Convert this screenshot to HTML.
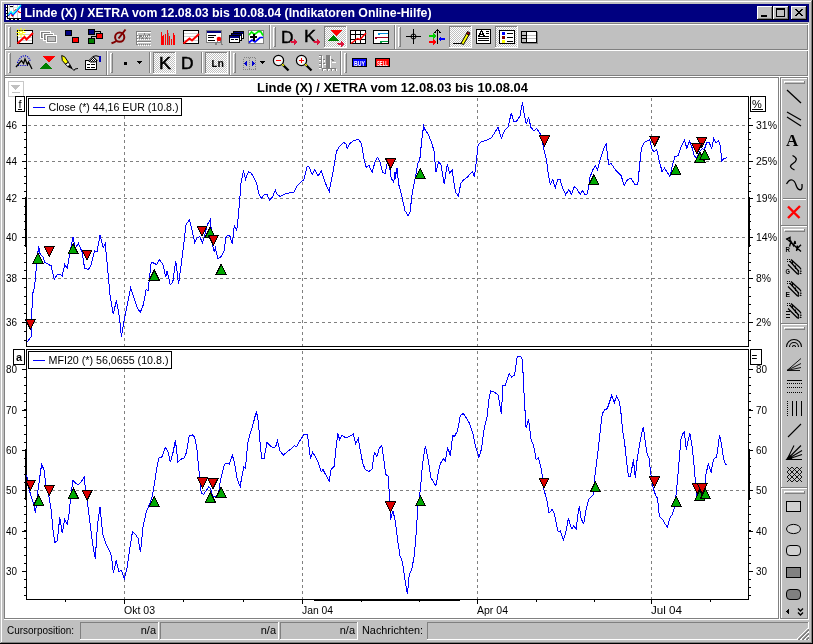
<!DOCTYPE html>
<html><head><meta charset="utf-8"><title>Linde (X) / XETRA</title>
<style>html,body{margin:0;padding:0;background:#c0c0c0;overflow:hidden}svg{display:block}text{white-space:pre}</style></head>
<body><svg width="813" height="644" viewBox="0 0 813 644" shape-rendering="crispEdges">
<defs><pattern id="chk" width="2" height="2" patternUnits="userSpaceOnUse"><rect width="2" height="2" fill="#fff"/><rect width="1" height="1" fill="#c0c0c0"/><rect x="1" y="1" width="1" height="1" fill="#c0c0c0"/></pattern><pattern id="chk2" width="2" height="2" patternUnits="userSpaceOnUse"><rect width="2" height="2" fill="#fff"/><rect width="1" height="1" fill="#000"/><rect x="1" y="1" width="1" height="1" fill="#000"/></pattern></defs>
<rect x="0" y="0" width="813" height="644" fill="#c0c0c0"/>
<rect x="1" y="1" width="811" height="1" fill="#fff"/>
<rect x="1" y="1" width="1" height="641" fill="#fff"/>
<rect x="0" y="643" width="813" height="1" fill="#000"/>
<rect x="812" y="0" width="1" height="644" fill="#000"/>
<rect x="1" y="642" width="811" height="1" fill="#808080"/>
<rect x="811" y="1" width="1" height="642" fill="#808080"/>
<rect x="4" y="4" width="805" height="18" fill="#000080"/>
<text x="24.5" y="17" font-size="12" font-family="Liberation Sans, Arial, sans-serif" fill="#fff" font-weight="bold" textLength="407" lengthAdjust="spacingAndGlyphs">Linde (X) / XETRA vom 12.08.03 bis 10.08.04 (Indikatoren Online-Hilfe)</text>
<g transform="translate(6,5)"><rect x="0" y="0" width="15" height="15" fill="#fff"/><rect x="0" y="0" width="1" height="15" fill="#000"/><rect x="1" y="0" width="1" height="14" fill="#000"/><rect x="1" y="13" width="14" height="1" fill="#000"/><rect x="0" y="14" width="15" height="1" fill="#000"/><rect x="0" y="0" width="1" height="2" fill="#fff"/><rect x="0" y="3" width="1" height="2" fill="#fff"/><rect x="0" y="6" width="1" height="2" fill="#fff"/><rect x="0" y="9" width="1" height="2" fill="#fff"/><rect x="0" y="12" width="1" height="2" fill="#fff"/><rect x="0" y="13" width="1" height="2" fill="#fff"/><rect x="1" y="14" width="2" height="1" fill="#fff"/><rect x="5" y="14" width="2" height="1" fill="#fff"/><rect x="9" y="14" width="2" height="1" fill="#fff"/><rect x="13" y="14" width="2" height="1" fill="#fff"/><path d="M3.5 0v13M7.5 0v13M11.5 0v13" stroke="#c8c8c8" stroke-width="1" fill="none"/><path d="M2 2.5h13M2 7.5h13" stroke="#e0e0e0" stroke-width="1" fill="none"/><rect x="4" y="1" width="3" height="1" fill="#000"/><g shape-rendering="auto"><path d="M2 8.5l1 0M5 9.5l1.5 1.5 1-1.5M8.5 6l1.5-1.5 2 0M12 6l1.5 1.5h1.5" stroke="#f00" stroke-width="1.2" fill="none"/><path d="M2 10.8l3-3.3 2 2.5 8-9" stroke="#00f" stroke-width="1.2" fill="none"/><path d="M2 9.8l3-3.3 2 2.5 8-9" stroke="#0ff" stroke-width="1.2" fill="none"/></g></g>
<rect x="757" y="6" width="16" height="14" fill="#c0c0c0"/>
<rect x="757" y="6" width="15" height="1" fill="#fff"/>
<rect x="757" y="6" width="1" height="13" fill="#fff"/>
<rect x="757" y="19" width="16" height="1" fill="#000"/>
<rect x="772" y="6" width="1" height="14" fill="#000"/>
<rect x="758" y="18" width="14" height="1" fill="#808080"/>
<rect x="771" y="7" width="1" height="12" fill="#808080"/>
<rect x="773" y="6" width="16" height="14" fill="#c0c0c0"/>
<rect x="773" y="6" width="15" height="1" fill="#fff"/>
<rect x="773" y="6" width="1" height="13" fill="#fff"/>
<rect x="773" y="19" width="16" height="1" fill="#000"/>
<rect x="788" y="6" width="1" height="14" fill="#000"/>
<rect x="774" y="18" width="14" height="1" fill="#808080"/>
<rect x="787" y="7" width="1" height="12" fill="#808080"/>
<rect x="791" y="6" width="16" height="14" fill="#c0c0c0"/>
<rect x="791" y="6" width="15" height="1" fill="#fff"/>
<rect x="791" y="6" width="1" height="13" fill="#fff"/>
<rect x="791" y="19" width="16" height="1" fill="#000"/>
<rect x="806" y="6" width="1" height="14" fill="#000"/>
<rect x="792" y="18" width="14" height="1" fill="#808080"/>
<rect x="805" y="7" width="1" height="12" fill="#808080"/>
<rect x="761" y="15" width="6" height="2" fill="#000"/>
<rect x="776" y="8" width="9" height="9" fill="#000"/>
<rect x="777" y="10" width="7" height="6" fill="#c0c0c0"/>
<path d="M795 9l7 7M796 9l7 7M802 9l-7 7M803 9l-7 7" stroke="#000" stroke-width="1" shape-rendering="crispEdges" fill="none"/>
<rect x="4" y="23" width="805" height="1" fill="#808080"/>
<rect x="4" y="24" width="805" height="1" fill="#fff"/>
<rect x="4" y="49" width="805" height="1" fill="#808080"/>
<rect x="4" y="50" width="805" height="1" fill="#fff"/>
<rect x="4" y="75" width="805" height="1" fill="#808080"/>
<rect x="4" y="76" width="805" height="1" fill="#fff"/>
<rect x="4" y="23" width="1" height="54" fill="#808080"/>
<rect x="5" y="25" width="1" height="24" fill="#fff"/>
<rect x="5" y="51" width="1" height="24" fill="#fff"/>
<rect x="807" y="25" width="1" height="24" fill="#808080"/>
<rect x="807" y="51" width="1" height="24" fill="#808080"/>
<rect x="808" y="23" width="1" height="54" fill="#fff"/>
<rect x="8" y="27" width="1" height="20" fill="#fff"/>
<rect x="9" y="27" width="1" height="20" fill="#c0c0c0"/>
<rect x="10" y="27" width="1" height="20" fill="#808080"/>
<rect x="8" y="27" width="2" height="1" fill="#fff"/>
<rect x="9" y="46" width="2" height="1" fill="#808080"/>
<rect x="269" y="25" width="1" height="24" fill="#808080"/>
<rect x="270" y="25" width="1" height="24" fill="#fff"/>
<rect x="273" y="27" width="1" height="20" fill="#fff"/>
<rect x="274" y="27" width="1" height="20" fill="#c0c0c0"/>
<rect x="275" y="27" width="1" height="20" fill="#808080"/>
<rect x="273" y="27" width="2" height="1" fill="#fff"/>
<rect x="274" y="46" width="2" height="1" fill="#808080"/>
<rect x="394" y="25" width="1" height="24" fill="#808080"/>
<rect x="395" y="25" width="1" height="24" fill="#fff"/>
<rect x="398" y="27" width="1" height="20" fill="#fff"/>
<rect x="399" y="27" width="1" height="20" fill="#c0c0c0"/>
<rect x="400" y="27" width="1" height="20" fill="#808080"/>
<rect x="398" y="27" width="2" height="1" fill="#fff"/>
<rect x="399" y="46" width="2" height="1" fill="#808080"/>
<rect x="324" y="26" width="23" height="22" fill="url(#chk)"/>
<rect x="324" y="26" width="23" height="1" fill="#808080"/>
<rect x="324" y="26" width="1" height="22" fill="#808080"/>
<rect x="324" y="47" width="23" height="1" fill="#fff"/>
<rect x="346" y="26" width="1" height="22" fill="#fff"/>
<rect x="449" y="26" width="23" height="22" fill="url(#chk)"/>
<rect x="449" y="26" width="23" height="1" fill="#808080"/>
<rect x="449" y="26" width="1" height="22" fill="#808080"/>
<rect x="449" y="47" width="23" height="1" fill="#fff"/>
<rect x="471" y="26" width="1" height="22" fill="#fff"/>
<rect x="495" y="26" width="23" height="22" fill="url(#chk)"/>
<rect x="495" y="26" width="23" height="1" fill="#808080"/>
<rect x="495" y="26" width="1" height="22" fill="#808080"/>
<rect x="495" y="47" width="23" height="1" fill="#fff"/>
<rect x="517" y="26" width="1" height="22" fill="#fff"/>
<rect x="8" y="53" width="1" height="20" fill="#fff"/>
<rect x="9" y="53" width="1" height="20" fill="#c0c0c0"/>
<rect x="10" y="53" width="1" height="20" fill="#808080"/>
<rect x="8" y="53" width="2" height="1" fill="#fff"/>
<rect x="9" y="72" width="2" height="1" fill="#808080"/>
<rect x="106" y="51" width="1" height="24" fill="#808080"/>
<rect x="107" y="51" width="1" height="24" fill="#fff"/>
<rect x="110" y="53" width="1" height="20" fill="#fff"/>
<rect x="111" y="53" width="1" height="20" fill="#c0c0c0"/>
<rect x="112" y="53" width="1" height="20" fill="#808080"/>
<rect x="110" y="53" width="2" height="1" fill="#fff"/>
<rect x="111" y="72" width="2" height="1" fill="#808080"/>
<rect x="149" y="52" width="1" height="21" fill="#808080"/>
<rect x="150" y="52" width="1" height="21" fill="#fff"/>
<rect x="201" y="52" width="1" height="21" fill="#808080"/>
<rect x="202" y="52" width="1" height="21" fill="#fff"/>
<rect x="229" y="51" width="1" height="24" fill="#808080"/>
<rect x="230" y="51" width="1" height="24" fill="#fff"/>
<rect x="233" y="53" width="1" height="20" fill="#fff"/>
<rect x="234" y="53" width="1" height="20" fill="#c0c0c0"/>
<rect x="235" y="53" width="1" height="20" fill="#808080"/>
<rect x="233" y="53" width="2" height="1" fill="#fff"/>
<rect x="234" y="72" width="2" height="1" fill="#808080"/>
<rect x="340" y="51" width="1" height="24" fill="#808080"/>
<rect x="341" y="51" width="1" height="24" fill="#fff"/>
<rect x="344" y="53" width="1" height="20" fill="#fff"/>
<rect x="345" y="53" width="1" height="20" fill="#c0c0c0"/>
<rect x="346" y="53" width="1" height="20" fill="#808080"/>
<rect x="344" y="53" width="2" height="1" fill="#fff"/>
<rect x="345" y="72" width="2" height="1" fill="#808080"/>
<rect x="153" y="52" width="23" height="22" fill="url(#chk)"/>
<rect x="153" y="52" width="23" height="1" fill="#808080"/>
<rect x="153" y="52" width="1" height="22" fill="#808080"/>
<rect x="153" y="73" width="23" height="1" fill="#fff"/>
<rect x="175" y="52" width="1" height="22" fill="#fff"/>
<rect x="205" y="52" width="23" height="22" fill="url(#chk)"/>
<rect x="205" y="52" width="23" height="1" fill="#808080"/>
<rect x="205" y="52" width="1" height="22" fill="#808080"/>
<rect x="205" y="73" width="23" height="1" fill="#fff"/>
<rect x="227" y="52" width="1" height="22" fill="#fff"/>
<rect x="17" y="30" width="16" height="14" fill="#000"/><rect x="18" y="31" width="14" height="12" fill="#fff"/><path d="M18 34.5h14M18 37.5h14M18 40.5h14" stroke="#d0d0d0" stroke-width="1" fill="none"/><path d="M17.5 43.5l7-6.5 2 2.5 6.5-6.5" stroke="#f00" stroke-width="2" fill="none" shape-rendering="auto"/><g shape-rendering="auto"><path d="M17 29l8 7M25 29l-8 7M21 28v9M16.5 32.5h9" stroke="#ff0" stroke-width="1" fill="none"/></g><rect x="20" y="32" width="2" height="1" fill="#fff"/><rect x="40" y="31" width="11" height="8" fill="#fff"/><rect x="41" y="32" width="9" height="6" fill="#c0c0c0"/><rect x="41" y="32" width="9" height="6" fill="#808080"/><rect x="42" y="33" width="7" height="4" fill="#c0c0c0"/><rect x="43" y="33" width="11" height="8" fill="#fff"/><rect x="44" y="34" width="9" height="6" fill="#c0c0c0"/><rect x="44" y="34" width="9" height="6" fill="#808080"/><rect x="45" y="35" width="7" height="4" fill="#c0c0c0"/><rect x="46" y="35" width="11" height="8" fill="#fff"/><rect x="47" y="36" width="9" height="6" fill="#c0c0c0"/><rect x="47" y="36" width="9" height="6" fill="#808080"/><rect x="48" y="37" width="7" height="4" fill="#c0c0c0"/><rect x="65" y="30" width="7" height="6" fill="#000"/><rect x="66" y="31" width="5" height="4" fill="#000080"/><rect x="72" y="37" width="7" height="6" fill="#000"/><rect x="73" y="38" width="5" height="4" fill="#f00"/><path d="M95 31.5h5.5v2M96 36.5h-4.5v2" stroke="#000" stroke-width="1" fill="none"/><rect x="88" y="29" width="7" height="6" fill="#000"/><rect x="89" y="30" width="5" height="4" fill="#000080"/><rect x="96" y="33" width="7" height="6" fill="#000"/><rect x="97" y="34" width="5" height="4" fill="#f00"/><rect x="88" y="38" width="7" height="6" fill="#000"/><rect x="89" y="39" width="5" height="4" fill="#008000"/><g shape-rendering="auto"><circle cx="119.7" cy="37.2" r="4.6" fill="none" stroke="#800000" stroke-width="2"/><path d="M125.5 29.5L118.5 38.5M116.5 41Q114 42.5 111.5 43.3" stroke="#800000" stroke-width="2" fill="none"/></g><rect x="136" y="31" width="1" height="14" fill="#808080"/><rect x="137" y="32" width="1" height="13" fill="#fff"/><path d="M137 31.5h14M137 41.5h14" stroke="#808080" stroke-width="1" fill="none"/><path d="M138 32.5h13M138 42.5h13" stroke="#fff" stroke-width="1" fill="none"/><path d="M137 35.5h14M137 38.5h14M137 44.5h14" stroke="#808080" stroke-width="1" fill="none" stroke-dasharray="1 1"/><path d="M138 36.5h14M138 39.5h14M138 45.5h14" stroke="#fff" stroke-width="1" fill="none" stroke-dasharray="1 1"/><path d="M139 38l2-3 1.5 3 2-4 2 4 1.5-3 2-1" stroke="#808080" stroke-width="1" fill="none"/><rect x="161" y="32" width="1" height="13" fill="#f00"/><rect x="163" y="35" width="1" height="10" fill="#f00"/><rect x="165" y="34" width="1" height="11" fill="#f00"/><rect x="167" y="30" width="1" height="15" fill="#f00"/><rect x="169" y="36" width="1" height="9" fill="#f00"/><rect x="171" y="39" width="1" height="6" fill="#f00"/><rect x="173" y="33" width="1" height="12" fill="#f00"/><rect x="162" y="36" width="1" height="9" fill="#f00"/><rect x="168" y="33" width="1" height="12" fill="#808080"/><rect x="174" y="35" width="1" height="10" fill="#f00"/><rect x="183" y="30" width="16" height="14" fill="#000"/><rect x="184" y="31" width="14" height="12" fill="#fff"/><path d="M184 33.5h14M184 36.5h14M184 40.5h14" stroke="#d0d0d0" stroke-width="1" fill="none"/><path d="M183.5 43.5l6-5 2.5 2 7-6.5" stroke="#f00" stroke-width="2" fill="none" shape-rendering="auto"/><rect x="206" y="30" width="16" height="13" fill="#808080"/><rect x="207" y="31" width="14" height="11" fill="#fff"/><rect x="207" y="31" width="14" height="2" fill="#000080"/><path d="M208 35.5h8M208 37.5h6M208 40.5h7" stroke="#000" stroke-width="1" fill="none"/><path d="M218.5 40l-3 5M219.5 40l3 5" stroke="#808080" stroke-width="1.5" fill="none"/><circle cx="219" cy="39" r="2.3" fill="#f00" shape-rendering="auto"/><rect x="233" y="31" width="11" height="8" fill="#000"/><rect x="234" y="32" width="9" height="6" fill="#fff"/><rect x="234" y="32" width="9" height="2" fill="#000080"/><rect x="231" y="33" width="11" height="8" fill="#000"/><rect x="232" y="34" width="9" height="6" fill="#fff"/><rect x="232" y="34" width="9" height="2" fill="#000080"/><rect x="229" y="35" width="11" height="8" fill="#000"/><rect x="230" y="36" width="9" height="6" fill="#fff"/><rect x="230" y="36" width="9" height="2" fill="#000080"/><path d="M231 39.5h3M235 39.5h3" stroke="#000" stroke-width="1" fill="none"/><rect x="248" y="30" width="16" height="14" fill="#808080"/><rect x="249" y="31" width="14" height="12" fill="#fff"/><path d="M249 35l2.5-3 3 2.5 4.5-3.5 2 1 2 3.5" stroke="#0e0" stroke-width="1.7" fill="none" shape-rendering="auto"/><path d="M249 42.5l3-2.5 3 2 5-4.5h3" stroke="#00f" stroke-width="1.7" fill="none" shape-rendering="auto"/><rect x="253" y="34" width="2" height="7" fill="#000"/><rect x="250" y="36" width="7" height="2" fill="#000"/><text x="281" y="43" font-size="16" font-family="Liberation Sans, Arial, sans-serif" font-weight="normal" fill="#000" text-anchor="start" textLength="12.5" lengthAdjust="spacingAndGlyphs" stroke="#000" stroke-width="0.4">D</text><rect x="290" y="41" width="6" height="1" fill="#dc143c"/><rect x="291" y="42" width="5" height="1" fill="#dc143c"/><path d="M294 39.5l2.5 2.5-2.5 2.5z" stroke="#dc143c" stroke-width="1" fill="#dc143c"/><text x="304" y="42" font-size="16" font-family="Liberation Sans, Arial, sans-serif" font-weight="normal" fill="#000" text-anchor="start" textLength="12" lengthAdjust="spacingAndGlyphs" stroke="#000" stroke-width="0.4">K</text><rect x="313" y="41" width="6" height="1" fill="#dc143c"/><rect x="314" y="42" width="5" height="1" fill="#dc143c"/><path d="M317 39.5l2.5 2.5-2.5 2.5z" stroke="#dc143c" stroke-width="1" fill="#dc143c"/><path d="M330.5 30h12l-6 6z" stroke="#f00" stroke-width="0" fill="#f00"/><path d="M328 41h11l-5.5 -6z" stroke="#008000" stroke-width="0" fill="#008000"/><rect x="337" y="43" width="6" height="1" fill="#dc143c"/><rect x="338" y="44" width="5" height="1" fill="#dc143c"/><path d="M341 41.5l2.5 2.5-2.5 2.5z" stroke="#dc143c" stroke-width="1" fill="#dc143c"/><rect x="350" y="30" width="16" height="14" fill="#000"/><rect x="351" y="31" width="14" height="12" fill="#fff"/><path d="M355.5 30v14M360.5 30v14M350 34.5h16M350 39.5h16" stroke="#000" stroke-width="1" fill="none"/><path d="M351 43.5l6.5-5 2.5 1 6-6.5" stroke="#f00" stroke-width="1.5" fill="none" shape-rendering="auto"/><rect x="373" y="30" width="16" height="14" fill="#000"/><rect x="374" y="31" width="14" height="12" fill="#fff"/><rect x="378" y="33" width="10" height="1" fill="#0090e0"/><rect x="378" y="34" width="2" height="1" fill="#0090e0"/><rect x="375" y="37" width="13" height="1" fill="#a00020"/><rect x="375" y="38" width="2" height="1" fill="#a00020"/><rect x="380" y="41" width="8" height="1" fill="#00a040"/><rect x="380" y="42" width="2" height="1" fill="#00a040"/><rect x="406" y="36" width="15" height="1" fill="#000"/><rect x="413" y="29" width="1" height="15" fill="#000"/><circle cx="413.5" cy="36.5" r="2.5" fill="none" stroke="#000" shape-rendering="auto"/><rect x="437" y="30" width="1" height="14" fill="#000"/><path d="M434.5 33l3-3.5 3 3.5" stroke="#000" stroke-width="1" fill="none"/><rect x="429" y="35" width="6" height="2" fill="#0c0"/><path d="M433 33l3 3-3 3z" stroke="#0c0" stroke-width="0" fill="#0c0"/><rect x="429" y="41" width="6" height="2" fill="#f00"/><path d="M433 39l3 3-3 3z" stroke="#f00" stroke-width="0" fill="#f00"/><rect x="440" y="38" width="5" height="2" fill="#00f"/><path d="M441 36l-3 3 3 3z" stroke="#00f" stroke-width="0" fill="#00f"/><rect x="453" y="43" width="8" height="1" fill="#000"/><g shape-rendering="auto"><path d="M461 43.5l5.5-10 2.5 1.5-5.5 9.5z" stroke="#000" stroke-width="1" fill="#ff0"/><path d="M466.5 33.5l1-2 2.5 1.5-1 2z" stroke="#000" stroke-width="1" fill="#c00"/></g><rect x="476" y="29" width="15" height="15" fill="#000"/><rect x="477" y="30" width="13" height="13" fill="#fff"/><path d="M478.5 36l3-5 3 5M479.5 34.5h4" stroke="#000" stroke-width="1.3" fill="none"/><path d="M486 31.5h3M486 33.5h3M478 36.5h11M478 38.5h11M478 40.5h11" stroke="#000" stroke-width="1" fill="none"/><rect x="499" y="30" width="16" height="14" fill="#000"/><rect x="500" y="31" width="14" height="12" fill="#fff"/><rect x="502" y="32" width="3" height="3" fill="#00f"/><rect x="502" y="36" width="3" height="3" fill="#800000"/><rect x="502" y="40" width="3" height="3" fill="#ff0"/><rect x="507" y="33" width="6" height="1" fill="#000"/><rect x="507" y="37" width="6" height="1" fill="#000"/><rect x="507" y="41" width="6" height="1" fill="#000"/><rect x="521" y="31" width="16" height="12" fill="#000"/><rect x="522" y="32" width="14" height="10" fill="#fff"/><rect x="522" y="32" width="4" height="10" fill="#c0c0c0"/><path d="M526.5 31v12" stroke="#000" stroke-width="1" fill="none"/><path d="M522 35.5h4M522 38.5h4" stroke="#000" stroke-width="1" fill="none"/><path d="M527 35.5h9M527 38.5h9" stroke="#c0c0c0" stroke-width="1" fill="none"/><rect x="522" y="43" width="16" height="1" fill="#808080"/><rect x="537" y="32" width="1" height="12" fill="#808080"/><g shape-rendering="auto"><path d="M17.5 63Q20 56 24.5 55.7Q29 56 30.5 62" stroke="#00c" stroke-width="1.3" fill="none" stroke-dasharray="1.1 1.1"/><path d="M18 65.5h11" stroke="#00c" stroke-width="1.1" fill="none" stroke-dasharray="1.1 1.1"/><path d="M16 67l5.5-6.5 2 3 1.5-4.5 2.5 5.5 1-2.5 3.5 7" stroke="#000" stroke-width="1.3" fill="none"/></g><path d="M42 56h13l-6.5 6.5z" stroke="#f00" stroke-width="0" fill="#f00"/><path d="M39 69h13l-6.5-6.5z" stroke="#008000" stroke-width="0" fill="#008000"/><g shape-rendering="auto"><path d="M61.7 55.5l3 1.3 3.7 5.5-3 1.8-3.1-3.6z" stroke="#000" stroke-width="1" fill="#ff0"/><path d="M65.4 64.1l3-1.8 1.9 3.1-2.5 1.2z" stroke="#000" stroke-width="1" fill="#fff"/><path d="M67.8 66.6l2.5-1.2 1.8 3.1z" stroke="#000" stroke-width="1" fill="#000"/><path d="M72 68.5l2 2 1-1.5 3-.5" stroke="#000" stroke-width="1" fill="none"/></g><rect x="85" y="60" width="12" height="10" fill="#000"/><rect x="86" y="61" width="10" height="8" fill="#fff"/><rect x="87" y="64" width="3" height="1" fill="#000"/><rect x="91" y="64" width="4" height="1" fill="#000"/><rect x="87" y="67" width="3" height="1" fill="#000"/><rect x="91" y="67" width="4" height="1" fill="#000"/><g shape-rendering="auto"><path d="M88.5 61l4.5-4.5 4 4-1.5 1.5h-5z" stroke="#000" stroke-width="1" fill="url(#chk2)"/><path d="M93 56.5q3-1.5 6 0" stroke="#000" stroke-width="1" fill="none"/></g><rect x="99" y="56" width="2" height="6" fill="#0000c0"/><rect x="124" y="62" width="3" height="3" fill="#000"/><rect x="137" y="61" width="5" height="1" fill="#000"/><rect x="138" y="62" width="3" height="1" fill="#000"/><rect x="139" y="63" width="1" height="1" fill="#000"/><text x="159" y="69" font-size="16" font-family="Liberation Sans, Arial, sans-serif" font-weight="normal" fill="#000" text-anchor="start" textLength="12" lengthAdjust="spacingAndGlyphs" stroke="#000" stroke-width="0.5">K</text><text x="181" y="69" font-size="16" font-family="Liberation Sans, Arial, sans-serif" font-weight="normal" fill="#000" text-anchor="start" textLength="12.5" lengthAdjust="spacingAndGlyphs" stroke="#000" stroke-width="0.5">D</text><text x="211" y="67" font-size="10" font-family="Liberation Mono, monospace" font-weight="bold" fill="#000" text-anchor="start" textLength="13" lengthAdjust="spacingAndGlyphs">Ln</text><rect x="243.5" y="57.5" width="12" height="12" fill="none" stroke="#808080" stroke-dasharray="1 1"/><path d="M249.5 58v12" stroke="#808080" stroke-width="1" fill="none" stroke-dasharray="1 1"/><path d="M247 61l-3 2.5 3 2.5z" stroke="#00c" stroke-width="0" fill="#00c"/><path d="M252 61l3 2.5-3 2.5z" stroke="#00c" stroke-width="0" fill="#00c"/><rect x="260" y="61" width="5" height="1" fill="#000"/><rect x="261" y="62" width="3" height="1" fill="#000"/><rect x="262" y="63" width="1" height="1" fill="#000"/><g shape-rendering="auto"><circle cx="278.5" cy="60.5" r="5.1" fill="#f4f4f4" stroke="#000" stroke-width="1.2"/><path d="M282.5 64.5l6 6" stroke="#000" stroke-width="2.3" fill="none"/><path d="M282.2 64.2l1.6 1.6" stroke="#ff0" stroke-width="1.6" fill="none"/></g><rect x="276" y="60" width="5" height="1" fill="#f00"/><g shape-rendering="auto"><circle cx="301.5" cy="60.5" r="5.1" fill="#f4f4f4" stroke="#000" stroke-width="1.2"/><path d="M305.5 64.5l6 6" stroke="#000" stroke-width="2.3" fill="none"/><path d="M305.2 64.2l1.6 1.6" stroke="#ff0" stroke-width="1.6" fill="none"/></g><rect x="299" y="60" width="5" height="1" fill="#f00"/><rect x="301" y="58" width="1" height="5" fill="#f00"/><rect x="321" y="55" width="1" height="13" fill="#808080"/><rect x="322" y="56" width="1" height="13" fill="#fff"/><rect x="319" y="55" width="2" height="1" fill="#808080"/><rect x="319" y="56" width="2" height="1" fill="#fff"/><rect x="319" y="59" width="2" height="1" fill="#808080"/><rect x="319" y="60" width="2" height="1" fill="#fff"/><rect x="319" y="63" width="2" height="1" fill="#808080"/><rect x="319" y="64" width="2" height="1" fill="#fff"/><rect x="319" y="67" width="2" height="1" fill="#808080"/><rect x="319" y="68" width="2" height="1" fill="#fff"/><rect x="326" y="55" width="4" height="14" fill="#808080"/><rect x="330" y="56" width="1" height="12" fill="#fff"/><rect x="323" y="59" width="2" height="1" fill="#808080"/><rect x="324" y="60" width="1" height="2" fill="#fff"/><rect x="323" y="63" width="2" height="1" fill="#808080"/><rect x="324" y="64" width="2" height="1" fill="#fff"/><rect x="331" y="59" width="2" height="1" fill="#808080"/><rect x="332" y="60" width="2" height="1" fill="#808080"/><rect x="332" y="62" width="4" height="1" fill="#fff"/><rect x="322" y="68" width="14" height="1" fill="#808080"/><rect x="322" y="69" width="1" height="2" fill="#808080"/><rect x="323" y="69" width="1" height="2" fill="#fff"/><rect x="327" y="69" width="1" height="2" fill="#808080"/><rect x="328" y="69" width="1" height="2" fill="#fff"/><rect x="331" y="69" width="1" height="2" fill="#808080"/><rect x="332" y="69" width="1" height="2" fill="#fff"/><rect x="335" y="69" width="1" height="2" fill="#808080"/><rect x="336" y="69" width="1" height="2" fill="#fff"/><rect x="323" y="69" width="3" height="1" fill="#fff"/><rect x="328" y="69" width="2" height="1" fill="#fff"/><rect x="332" y="69" width="2" height="1" fill="#fff"/><rect x="352" y="58" width="15" height="9" fill="#000"/><rect x="353" y="59" width="13" height="7" fill="#00f"/><text x="359.5" y="65.5" font-size="6.5" font-family="Liberation Sans, Arial, sans-serif" font-weight="bold" fill="#fff" text-anchor="middle" textLength="11" lengthAdjust="spacingAndGlyphs">BUY</text><rect x="375" y="58" width="15" height="9" fill="#000"/><rect x="376" y="59" width="13" height="7" fill="#f00"/><text x="382.5" y="65.5" font-size="6.5" font-family="Liberation Sans, Arial, sans-serif" font-weight="bold" fill="#fff" text-anchor="middle" textLength="11" lengthAdjust="spacingAndGlyphs">SELL</text>
<rect x="5" y="78" width="773" height="540" fill="#fff"/>
<rect x="4" y="77" width="775" height="1" fill="#808080"/>
<rect x="4" y="77" width="1" height="542" fill="#808080"/>
<rect x="778" y="77" width="1" height="542" fill="#808080"/>
<rect x="4" y="618" width="775" height="1" fill="#808080"/>
<rect x="779" y="77" width="1" height="543" fill="#fff"/>
<rect x="4" y="619" width="805" height="1" fill="#fff"/>
<rect x="780" y="77" width="1" height="542" fill="#808080"/>
<rect x="780" y="77" width="28" height="1" fill="#808080"/>
<rect x="807" y="77" width="1" height="542" fill="#808080"/>
<rect x="808" y="77" width="1" height="543" fill="#fff"/>
<rect x="781" y="78" width="26" height="1" fill="#fff"/>
<rect x="781" y="78" width="1" height="147" fill="#fff"/>
<rect x="781" y="225" width="27" height="1" fill="#808080"/>
<rect x="784" y="81" width="20" height="1" fill="#fff"/>
<rect x="784" y="82" width="20" height="1" fill="#c0c0c0"/>
<rect x="785" y="83" width="20" height="1" fill="#808080"/>
<rect x="784" y="81" width="1" height="2" fill="#fff"/>
<rect x="804" y="81" width="1" height="3" fill="#808080"/>
<rect x="781" y="226" width="26" height="1" fill="#fff"/>
<rect x="781" y="226" width="1" height="97" fill="#fff"/>
<rect x="781" y="323" width="27" height="1" fill="#808080"/>
<rect x="784" y="229" width="20" height="1" fill="#fff"/>
<rect x="784" y="230" width="20" height="1" fill="#c0c0c0"/>
<rect x="785" y="231" width="20" height="1" fill="#808080"/>
<rect x="784" y="229" width="1" height="2" fill="#fff"/>
<rect x="804" y="229" width="1" height="3" fill="#808080"/>
<rect x="781" y="324" width="26" height="1" fill="#fff"/>
<rect x="781" y="324" width="1" height="163" fill="#fff"/>
<rect x="781" y="487" width="27" height="1" fill="#808080"/>
<rect x="784" y="327" width="20" height="1" fill="#fff"/>
<rect x="784" y="328" width="20" height="1" fill="#c0c0c0"/>
<rect x="785" y="329" width="20" height="1" fill="#808080"/>
<rect x="784" y="327" width="1" height="2" fill="#fff"/>
<rect x="804" y="327" width="1" height="3" fill="#808080"/>
<rect x="781" y="488" width="26" height="1" fill="#fff"/>
<rect x="781" y="488" width="1" height="130" fill="#fff"/>
<rect x="781" y="618" width="27" height="1" fill="#808080"/>
<rect x="784" y="491" width="20" height="1" fill="#fff"/>
<rect x="784" y="492" width="20" height="1" fill="#c0c0c0"/>
<rect x="785" y="493" width="20" height="1" fill="#808080"/>
<rect x="784" y="491" width="1" height="2" fill="#fff"/>
<rect x="804" y="491" width="1" height="3" fill="#808080"/>
<rect x="783" y="198" width="23" height="1" fill="#808080"/>
<rect x="783" y="199" width="23" height="1" fill="#fff"/>
<g shape-rendering="auto" fill="none" stroke="#000" stroke-width="1.3"><path d="M787 90l14 13"/><path d="M787 112l14 8M787 117l14 9"/><path d="M792.5 155.5C798 158 797 161 793 163.5S790 168 794.5 170"/><path d="M786.5 184c4-7 8-4 9.5 1s7 8 6-1"/></g><text x="786" y="146" font-size="17" font-family="Liberation Serif, serif" font-weight="bold" fill="#000" text-anchor="start">A</text><g shape-rendering="auto"><path d="M788 206.5l11.5 11.5M800 206l-12 12" stroke="#f00" stroke-width="2.4" fill="none"/></g><g shape-rendering="auto" fill="none" stroke="#000" stroke-width="1.4"><path d="M786.5 238.5L801 251.5M786 239.3l4-2 0 3.5M789.5 246.5l1.5-5 2.5 4 1.5-4.5 0.5 3M796.5 251l1-5.5M797.5 248.2l3.5-3.5"/></g><text x="785.5" y="251.5" font-size="7.5" font-family="Liberation Sans, Arial, sans-serif" font-weight="bold" fill="#000" text-anchor="start" textLength="4.5" lengthAdjust="spacingAndGlyphs">R</text><g shape-rendering="auto" fill="none" stroke="#000" stroke-width="1.3"><path d="M791 259.5L800.3 268M788 264.5L797.8 274.3M789.8 261L799 271.5"/><path d="M800.5 268L801 273L798 274.5" stroke-dasharray="1.5 1"/><path d="M792.5 261v3M795.5 265.5v3.5M798.3 270.5v3.5" stroke-width="1.1"/></g><rect x="787" y="259" width="1" height="1" fill="#000"/><rect x="789" y="259" width="1" height="1" fill="#000"/><rect x="787" y="261" width="1" height="1" fill="#000"/><rect x="789" y="261" width="1" height="1" fill="#000"/><text x="785.5" y="274" font-size="7.5" font-family="Liberation Sans, Arial, sans-serif" font-weight="bold" fill="#000" text-anchor="start" textLength="4.5" lengthAdjust="spacingAndGlyphs">G</text><g shape-rendering="auto" fill="none" stroke="#000" stroke-width="1.3"><path d="M791 281.5L800.3 290M788 286.5L797.8 296.3M789.8 283L799 293.5"/><path d="M800.5 290L801 295L798 296.5" stroke-dasharray="1.5 1"/><path d="M792.5 283v3M795.5 287.5v3.5M798.3 292.5v3.5" stroke-width="1.1"/></g><rect x="787" y="281" width="1" height="1" fill="#000"/><rect x="789" y="281" width="1" height="1" fill="#000"/><rect x="787" y="283" width="1" height="1" fill="#000"/><rect x="789" y="283" width="1" height="1" fill="#000"/><text x="785.5" y="296.5" font-size="7.5" font-family="Liberation Sans, Arial, sans-serif" font-weight="bold" fill="#000" text-anchor="start" textLength="4.5" lengthAdjust="spacingAndGlyphs">E</text><g shape-rendering="auto" fill="none" stroke="#000" stroke-width="1.3"><path d="M791 303.5L800.3 312M788 308.5L797.8 318.3M789.8 305L799 315.5"/><path d="M800.5 312L801 317L798 318.5" stroke-dasharray="1.5 1"/><path d="M792.5 305v3M795.5 309.5v3.5M798.3 314.5v3.5" stroke-width="1.1"/></g><rect x="787" y="303" width="1" height="1" fill="#000"/><rect x="789" y="303" width="1" height="1" fill="#000"/><rect x="787" y="305" width="1" height="1" fill="#000"/><rect x="789" y="305" width="1" height="1" fill="#000"/><rect x="786" y="311" width="4" height="1" fill="#000"/><rect x="786" y="314" width="4" height="1" fill="#000"/><rect x="786" y="317" width="4" height="1" fill="#000"/><g shape-rendering="auto" fill="none" stroke="#000" stroke-width="1.1"><path d="M786.5 347a7.5 7.5 0 0 1 15 0M789.5 347a4.5 4.5 0 0 1 9 0M792.5 347a1.5 1.5 0 0 1 3 0"/><path d="M787 370.5l14-12M787 370.5l14-7M787 370.5l14-3M787 370.5l13 0" stroke-width="0.9"/><path d="M788 437l13-13"/><path d="M787 459.5l7-14M787 459.5l14-14M787 459.5l15-9M787 459.5l15-5M787 459.5h15"/><path d="M786.5 459.5l3.5-4 2 4z" fill="#000"/><path d="M787 467l15 15M787 472l10 10M787 477l5 5M792 467l10 10M797 467l5 5M802 467l-15 15M797 467l-10 10M792 467l-5 5M802 472l-10 10M802 477l-5 5" stroke-width="0.9"/></g><rect x="787" y="380" width="15" height="1" fill="#000"/><path d="M787 383.5h15" stroke="#000" stroke-width="1" fill="none" stroke-dasharray="1 1"/><path d="M787 387.5h15" stroke="#000" stroke-width="1" fill="none" stroke-dasharray="1 1"/><path d="M787 392.5h15" stroke="#000" stroke-width="1" fill="none" stroke-dasharray="1 1"/><path d="M787.5 401v15" stroke="#000" stroke-width="1" fill="none" stroke-dasharray="1 1"/><rect x="792" y="401" width="1" height="15" fill="#000"/><rect x="796" y="401" width="1" height="15" fill="#000"/><rect x="801" y="401" width="1" height="15" fill="#000"/><rect x="786" y="501" width="15" height="11" fill="#000"/><rect x="787" y="502" width="13" height="9" fill="#d0d0d0"/><g shape-rendering="auto"><ellipse cx="793.5" cy="529" rx="7" ry="4.6" fill="#d0d0d0" stroke="#000"/><rect x="786.5" y="545.5" width="14" height="10" rx="3.5" fill="#d0d0d0" stroke="#000"/><rect x="786.5" y="589.5" width="14" height="10" rx="3.5" fill="#808080" stroke="#000"/></g><rect x="786" y="567" width="15" height="11" fill="#000"/><rect x="787" y="568" width="13" height="9" fill="#808080"/><path d="M789 609v5l-3-2.5z" stroke="#000" stroke-width="0" fill="#000"/><g shape-rendering="auto"><path d="M798 608.5l2.5 2.5 2.5-2.5M798 612.5l2.5 2.5 2.5-2.5" stroke="#000" stroke-width="1.4" fill="none"/></g>
<rect x="80" y="622" width="79" height="1" fill="#808080"/>
<rect x="80" y="622" width="1" height="18" fill="#808080"/>
<rect x="80" y="639" width="79" height="1" fill="#fff"/>
<rect x="158" y="622" width="1" height="18" fill="#fff"/>
<rect x="160" y="622" width="119" height="1" fill="#808080"/>
<rect x="160" y="622" width="1" height="18" fill="#808080"/>
<rect x="160" y="639" width="119" height="1" fill="#fff"/>
<rect x="278" y="622" width="1" height="18" fill="#fff"/>
<rect x="280" y="622" width="78" height="1" fill="#808080"/>
<rect x="280" y="622" width="1" height="18" fill="#808080"/>
<rect x="280" y="639" width="78" height="1" fill="#fff"/>
<rect x="357" y="622" width="1" height="18" fill="#fff"/>
<rect x="427" y="622" width="382" height="1" fill="#808080"/>
<rect x="427" y="622" width="1" height="18" fill="#808080"/>
<rect x="427" y="639" width="382" height="1" fill="#fff"/>
<rect x="808" y="622" width="1" height="18" fill="#fff"/>
<text x="7" y="634" font-size="11" font-family="Liberation Sans, Arial, sans-serif" fill="#000" textLength="67" lengthAdjust="spacingAndGlyphs">Cursorposition:</text>
<text x="362" y="634" font-size="11" font-family="Liberation Sans, Arial, sans-serif" fill="#000" textLength="61" lengthAdjust="spacingAndGlyphs">Nachrichten:</text>
<text x="156" y="634" font-size="11" font-family="Liberation Sans, Arial, sans-serif" fill="#000" text-anchor="end">n/a</text>
<text x="276" y="634" font-size="11" font-family="Liberation Sans, Arial, sans-serif" fill="#000" text-anchor="end">n/a</text>
<text x="355" y="634" font-size="11" font-family="Liberation Sans, Arial, sans-serif" fill="#000" text-anchor="end">n/a</text>
<g shape-rendering="crispEdges"><path d="M805 639L808 636" stroke="#fff"/><path d="M806 640L809 637" stroke="#808080"/><path d="M807 640L809 638" stroke="#808080"/><path d="M801 639L808 632" stroke="#fff"/><path d="M802 640L809 633" stroke="#808080"/><path d="M803 640L809 634" stroke="#808080"/><path d="M797 639L808 628" stroke="#fff"/><path d="M798 640L809 629" stroke="#808080"/><path d="M799 640L809 630" stroke="#808080"/></g>
<text x="392.5" y="92" font-size="13" font-family="Liberation Sans, Arial, sans-serif" fill="#000" font-weight="bold" text-anchor="middle" textLength="271" lengthAdjust="spacingAndGlyphs">Linde (X) / XETRA vom 12.08.03 bis 10.08.04</text>
<rect x="8" y="81" width="15" height="15" fill="#fff" stroke="#c8c8c8" stroke-width="1" transform="translate(.5,.5)"/>
<path d="M11 85h9l-4.5 5z" fill="#c0c0c0"/>
<rect x="12" y="92" width="8" height="1" fill="#c0c0c0"/>
<path d="M27 125.5H748" stroke="#808080" stroke-dasharray="3 3" stroke-dashoffset="-1" shape-rendering="crispEdges"/>
<path d="M27 161.5H748" stroke="#808080" stroke-dasharray="3 3" stroke-dashoffset="-1" shape-rendering="crispEdges"/>
<path d="M27 198.5H748" stroke="#808080" stroke-dasharray="3 3" stroke-dashoffset="-1" shape-rendering="crispEdges"/>
<path d="M27 237.5H748" stroke="#808080" stroke-dasharray="3 3" stroke-dashoffset="-1" shape-rendering="crispEdges"/>
<path d="M27 278.5H748" stroke="#808080" stroke-dasharray="3 3" stroke-dashoffset="-1" shape-rendering="crispEdges"/>
<path d="M27 322.5H748" stroke="#808080" stroke-dasharray="3 3" stroke-dashoffset="-1" shape-rendering="crispEdges"/>
<path d="M124.5 97V346" stroke="#808080" stroke-dasharray="3 3" stroke-dashoffset="-1" shape-rendering="crispEdges"/>
<path d="M124.5 350V599" stroke="#808080" stroke-dasharray="3 3" stroke-dashoffset="-1" shape-rendering="crispEdges"/>
<path d="M302.5 97V346" stroke="#808080" stroke-dasharray="3 3" stroke-dashoffset="-1" shape-rendering="crispEdges"/>
<path d="M302.5 350V599" stroke="#808080" stroke-dasharray="3 3" stroke-dashoffset="-1" shape-rendering="crispEdges"/>
<path d="M477.5 97V346" stroke="#808080" stroke-dasharray="3 3" stroke-dashoffset="-1" shape-rendering="crispEdges"/>
<path d="M477.5 350V599" stroke="#808080" stroke-dasharray="3 3" stroke-dashoffset="-1" shape-rendering="crispEdges"/>
<path d="M651.5 97V346" stroke="#808080" stroke-dasharray="3 3" stroke-dashoffset="-1" shape-rendering="crispEdges"/>
<path d="M651.5 350V599" stroke="#808080" stroke-dasharray="3 3" stroke-dashoffset="-1" shape-rendering="crispEdges"/>
<path d="M27 490.5H748" stroke="#808080" stroke-dasharray="3 3" stroke-dashoffset="-1" shape-rendering="crispEdges"/>
<rect x="24" y="132" width="2" height="1" fill="#000"/>
<rect x="749" y="132" width="2" height="1" fill="#000"/>
<rect x="24" y="139" width="2" height="1" fill="#000"/>
<rect x="749" y="139" width="2" height="1" fill="#000"/>
<rect x="24" y="147" width="2" height="1" fill="#000"/>
<rect x="749" y="147" width="2" height="1" fill="#000"/>
<rect x="24" y="154" width="2" height="1" fill="#000"/>
<rect x="749" y="154" width="2" height="1" fill="#000"/>
<rect x="24" y="168" width="2" height="1" fill="#000"/>
<rect x="749" y="168" width="2" height="1" fill="#000"/>
<rect x="24" y="176" width="2" height="1" fill="#000"/>
<rect x="749" y="176" width="2" height="1" fill="#000"/>
<rect x="24" y="183" width="2" height="1" fill="#000"/>
<rect x="749" y="183" width="2" height="1" fill="#000"/>
<rect x="24" y="191" width="2" height="1" fill="#000"/>
<rect x="749" y="191" width="2" height="1" fill="#000"/>
<rect x="24" y="206" width="2" height="1" fill="#000"/>
<rect x="749" y="206" width="2" height="1" fill="#000"/>
<rect x="24" y="214" width="2" height="1" fill="#000"/>
<rect x="749" y="214" width="2" height="1" fill="#000"/>
<rect x="24" y="221" width="2" height="1" fill="#000"/>
<rect x="749" y="221" width="2" height="1" fill="#000"/>
<rect x="24" y="229" width="2" height="1" fill="#000"/>
<rect x="749" y="229" width="2" height="1" fill="#000"/>
<rect x="24" y="245" width="2" height="1" fill="#000"/>
<rect x="749" y="245" width="2" height="1" fill="#000"/>
<rect x="24" y="253" width="2" height="1" fill="#000"/>
<rect x="749" y="253" width="2" height="1" fill="#000"/>
<rect x="24" y="262" width="2" height="1" fill="#000"/>
<rect x="749" y="262" width="2" height="1" fill="#000"/>
<rect x="24" y="270" width="2" height="1" fill="#000"/>
<rect x="749" y="270" width="2" height="1" fill="#000"/>
<rect x="24" y="287" width="2" height="1" fill="#000"/>
<rect x="749" y="287" width="2" height="1" fill="#000"/>
<rect x="24" y="296" width="2" height="1" fill="#000"/>
<rect x="749" y="296" width="2" height="1" fill="#000"/>
<rect x="24" y="304" width="2" height="1" fill="#000"/>
<rect x="749" y="304" width="2" height="1" fill="#000"/>
<rect x="24" y="313" width="2" height="1" fill="#000"/>
<rect x="749" y="313" width="2" height="1" fill="#000"/>
<rect x="749" y="118" width="2" height="1" fill="#000"/>
<rect x="24" y="331" width="2" height="1" fill="#000"/>
<rect x="749" y="331" width="2" height="1" fill="#000"/>
<rect x="24" y="340" width="2" height="1" fill="#000"/>
<rect x="749" y="340" width="2" height="1" fill="#000"/>
<rect x="22" y="125" width="4" height="1" fill="#000"/>
<rect x="749" y="125" width="4" height="1" fill="#000"/>
<text x="17" y="129" font-size="11" font-family="Liberation Sans, Arial, sans-serif" fill="#000" text-anchor="end" textLength="11" lengthAdjust="spacingAndGlyphs">46</text>
<text x="756" y="129" font-size="11" font-family="Liberation Sans, Arial, sans-serif" fill="#000" textLength="21" lengthAdjust="spacingAndGlyphs">31%</text>
<rect x="22" y="161" width="4" height="1" fill="#000"/>
<rect x="749" y="161" width="4" height="1" fill="#000"/>
<text x="17" y="165" font-size="11" font-family="Liberation Sans, Arial, sans-serif" fill="#000" text-anchor="end" textLength="11" lengthAdjust="spacingAndGlyphs">44</text>
<text x="756" y="165" font-size="11" font-family="Liberation Sans, Arial, sans-serif" fill="#000" textLength="21" lengthAdjust="spacingAndGlyphs">25%</text>
<rect x="22" y="198" width="4" height="1" fill="#000"/>
<rect x="749" y="198" width="4" height="1" fill="#000"/>
<text x="17" y="202" font-size="11" font-family="Liberation Sans, Arial, sans-serif" fill="#000" text-anchor="end" textLength="11" lengthAdjust="spacingAndGlyphs">42</text>
<text x="756" y="202" font-size="11" font-family="Liberation Sans, Arial, sans-serif" fill="#000" textLength="21" lengthAdjust="spacingAndGlyphs">19%</text>
<rect x="22" y="237" width="4" height="1" fill="#000"/>
<rect x="749" y="237" width="4" height="1" fill="#000"/>
<text x="17" y="241" font-size="11" font-family="Liberation Sans, Arial, sans-serif" fill="#000" text-anchor="end" textLength="11" lengthAdjust="spacingAndGlyphs">40</text>
<text x="756" y="241" font-size="11" font-family="Liberation Sans, Arial, sans-serif" fill="#000" textLength="21" lengthAdjust="spacingAndGlyphs">14%</text>
<rect x="22" y="278" width="4" height="1" fill="#000"/>
<rect x="749" y="278" width="4" height="1" fill="#000"/>
<text x="17" y="282" font-size="11" font-family="Liberation Sans, Arial, sans-serif" fill="#000" text-anchor="end" textLength="11" lengthAdjust="spacingAndGlyphs">38</text>
<text x="756" y="282" font-size="11" font-family="Liberation Sans, Arial, sans-serif" fill="#000" textLength="15" lengthAdjust="spacingAndGlyphs">8%</text>
<rect x="22" y="322" width="4" height="1" fill="#000"/>
<rect x="749" y="322" width="4" height="1" fill="#000"/>
<text x="17" y="326" font-size="11" font-family="Liberation Sans, Arial, sans-serif" fill="#000" text-anchor="end" textLength="11" lengthAdjust="spacingAndGlyphs">36</text>
<text x="756" y="326" font-size="11" font-family="Liberation Sans, Arial, sans-serif" fill="#000" textLength="15" lengthAdjust="spacingAndGlyphs">2%</text>
<rect x="24" y="369" width="2" height="1" fill="#000"/>
<rect x="749" y="369" width="2" height="1" fill="#000"/>
<rect x="24" y="377" width="2" height="1" fill="#000"/>
<rect x="749" y="377" width="2" height="1" fill="#000"/>
<rect x="24" y="385" width="2" height="1" fill="#000"/>
<rect x="749" y="385" width="2" height="1" fill="#000"/>
<rect x="24" y="393" width="2" height="1" fill="#000"/>
<rect x="749" y="393" width="2" height="1" fill="#000"/>
<rect x="24" y="401" width="2" height="1" fill="#000"/>
<rect x="749" y="401" width="2" height="1" fill="#000"/>
<rect x="24" y="409" width="2" height="1" fill="#000"/>
<rect x="749" y="409" width="2" height="1" fill="#000"/>
<rect x="24" y="417" width="2" height="1" fill="#000"/>
<rect x="749" y="417" width="2" height="1" fill="#000"/>
<rect x="24" y="425" width="2" height="1" fill="#000"/>
<rect x="749" y="425" width="2" height="1" fill="#000"/>
<rect x="24" y="434" width="2" height="1" fill="#000"/>
<rect x="749" y="434" width="2" height="1" fill="#000"/>
<rect x="24" y="442" width="2" height="1" fill="#000"/>
<rect x="749" y="442" width="2" height="1" fill="#000"/>
<rect x="24" y="450" width="2" height="1" fill="#000"/>
<rect x="749" y="450" width="2" height="1" fill="#000"/>
<rect x="24" y="458" width="2" height="1" fill="#000"/>
<rect x="749" y="458" width="2" height="1" fill="#000"/>
<rect x="24" y="466" width="2" height="1" fill="#000"/>
<rect x="749" y="466" width="2" height="1" fill="#000"/>
<rect x="24" y="474" width="2" height="1" fill="#000"/>
<rect x="749" y="474" width="2" height="1" fill="#000"/>
<rect x="24" y="482" width="2" height="1" fill="#000"/>
<rect x="749" y="482" width="2" height="1" fill="#000"/>
<rect x="24" y="490" width="2" height="1" fill="#000"/>
<rect x="749" y="490" width="2" height="1" fill="#000"/>
<rect x="24" y="498" width="2" height="1" fill="#000"/>
<rect x="749" y="498" width="2" height="1" fill="#000"/>
<rect x="24" y="506" width="2" height="1" fill="#000"/>
<rect x="749" y="506" width="2" height="1" fill="#000"/>
<rect x="24" y="514" width="2" height="1" fill="#000"/>
<rect x="749" y="514" width="2" height="1" fill="#000"/>
<rect x="24" y="522" width="2" height="1" fill="#000"/>
<rect x="749" y="522" width="2" height="1" fill="#000"/>
<rect x="24" y="530" width="2" height="1" fill="#000"/>
<rect x="749" y="530" width="2" height="1" fill="#000"/>
<rect x="24" y="538" width="2" height="1" fill="#000"/>
<rect x="749" y="538" width="2" height="1" fill="#000"/>
<rect x="24" y="547" width="2" height="1" fill="#000"/>
<rect x="749" y="547" width="2" height="1" fill="#000"/>
<rect x="24" y="555" width="2" height="1" fill="#000"/>
<rect x="749" y="555" width="2" height="1" fill="#000"/>
<rect x="24" y="563" width="2" height="1" fill="#000"/>
<rect x="749" y="563" width="2" height="1" fill="#000"/>
<rect x="24" y="571" width="2" height="1" fill="#000"/>
<rect x="749" y="571" width="2" height="1" fill="#000"/>
<rect x="24" y="579" width="2" height="1" fill="#000"/>
<rect x="749" y="579" width="2" height="1" fill="#000"/>
<rect x="24" y="587" width="2" height="1" fill="#000"/>
<rect x="749" y="587" width="2" height="1" fill="#000"/>
<rect x="24" y="595" width="2" height="1" fill="#000"/>
<rect x="749" y="595" width="2" height="1" fill="#000"/>
<rect x="22" y="369" width="4" height="1" fill="#000"/>
<rect x="749" y="369" width="4" height="1" fill="#000"/>
<text x="17" y="373" font-size="11" font-family="Liberation Sans, Arial, sans-serif" fill="#000" text-anchor="end" textLength="11" lengthAdjust="spacingAndGlyphs">80</text>
<text x="756" y="373" font-size="11" font-family="Liberation Sans, Arial, sans-serif" fill="#000" textLength="11" lengthAdjust="spacingAndGlyphs">80</text>
<rect x="22" y="410" width="4" height="1" fill="#000"/>
<rect x="749" y="410" width="4" height="1" fill="#000"/>
<text x="17" y="414" font-size="11" font-family="Liberation Sans, Arial, sans-serif" fill="#000" text-anchor="end" textLength="11" lengthAdjust="spacingAndGlyphs">70</text>
<text x="756" y="414" font-size="11" font-family="Liberation Sans, Arial, sans-serif" fill="#000" textLength="11" lengthAdjust="spacingAndGlyphs">70</text>
<rect x="22" y="450" width="4" height="1" fill="#000"/>
<rect x="749" y="450" width="4" height="1" fill="#000"/>
<text x="17" y="454" font-size="11" font-family="Liberation Sans, Arial, sans-serif" fill="#000" text-anchor="end" textLength="11" lengthAdjust="spacingAndGlyphs">60</text>
<text x="756" y="454" font-size="11" font-family="Liberation Sans, Arial, sans-serif" fill="#000" textLength="11" lengthAdjust="spacingAndGlyphs">60</text>
<rect x="22" y="490" width="4" height="1" fill="#000"/>
<rect x="749" y="490" width="4" height="1" fill="#000"/>
<text x="17" y="494" font-size="11" font-family="Liberation Sans, Arial, sans-serif" fill="#000" text-anchor="end" textLength="11" lengthAdjust="spacingAndGlyphs">50</text>
<text x="756" y="494" font-size="11" font-family="Liberation Sans, Arial, sans-serif" fill="#000" textLength="11" lengthAdjust="spacingAndGlyphs">50</text>
<rect x="22" y="531" width="4" height="1" fill="#000"/>
<rect x="749" y="531" width="4" height="1" fill="#000"/>
<text x="17" y="535" font-size="11" font-family="Liberation Sans, Arial, sans-serif" fill="#000" text-anchor="end" textLength="11" lengthAdjust="spacingAndGlyphs">40</text>
<text x="756" y="535" font-size="11" font-family="Liberation Sans, Arial, sans-serif" fill="#000" textLength="11" lengthAdjust="spacingAndGlyphs">40</text>
<rect x="22" y="571" width="4" height="1" fill="#000"/>
<rect x="749" y="571" width="4" height="1" fill="#000"/>
<text x="17" y="575" font-size="11" font-family="Liberation Sans, Arial, sans-serif" fill="#000" text-anchor="end" textLength="11" lengthAdjust="spacingAndGlyphs">30</text>
<text x="756" y="575" font-size="11" font-family="Liberation Sans, Arial, sans-serif" fill="#000" textLength="11" lengthAdjust="spacingAndGlyphs">30</text>
<rect x="25" y="197" width="1" height="50" fill="#000"/>
<rect x="749" y="197" width="1" height="50" fill="#000"/>
<rect x="25" y="449" width="1" height="51" fill="#000"/>
<rect x="749" y="449" width="1" height="51" fill="#000"/>
<rect x="26" y="96" width="723" height="1" fill="#000"/>
<rect x="26" y="346" width="723" height="1" fill="#000"/>
<rect x="26" y="96" width="1" height="251" fill="#000"/>
<rect x="748" y="96" width="1" height="251" fill="#000"/>
<rect x="26" y="349" width="723" height="1" fill="#000"/>
<rect x="26" y="599" width="723" height="1" fill="#000"/>
<rect x="26" y="349" width="1" height="251" fill="#000"/>
<rect x="748" y="349" width="1" height="251" fill="#000"/>
<rect x="65" y="600" width="1" height="2" fill="#000"/>
<rect x="124" y="600" width="1" height="2" fill="#000"/>
<rect x="183" y="600" width="1" height="2" fill="#000"/>
<rect x="243" y="600" width="1" height="2" fill="#000"/>
<rect x="302" y="600" width="1" height="2" fill="#000"/>
<rect x="361" y="600" width="1" height="2" fill="#000"/>
<rect x="419" y="600" width="1" height="2" fill="#000"/>
<rect x="477" y="600" width="1" height="2" fill="#000"/>
<rect x="536" y="600" width="1" height="2" fill="#000"/>
<rect x="594" y="600" width="1" height="2" fill="#000"/>
<rect x="651" y="600" width="1" height="2" fill="#000"/>
<rect x="710" y="600" width="1" height="2" fill="#000"/>
<rect x="124" y="600" width="1" height="4" fill="#000"/>
<text x="124" y="614" font-size="11" font-family="Liberation Sans, Arial, sans-serif" fill="#000" textLength="31" lengthAdjust="spacingAndGlyphs">Okt 03</text>
<rect x="302" y="600" width="1" height="4" fill="#000"/>
<text x="302" y="614" font-size="11" font-family="Liberation Sans, Arial, sans-serif" fill="#000" textLength="31" lengthAdjust="spacingAndGlyphs">Jan 04</text>
<rect x="477" y="600" width="1" height="4" fill="#000"/>
<text x="477" y="614" font-size="11" font-family="Liberation Sans, Arial, sans-serif" fill="#000" textLength="31" lengthAdjust="spacingAndGlyphs">Apr 04</text>
<rect x="651" y="600" width="1" height="4" fill="#000"/>
<text x="651" y="614" font-size="11" font-family="Liberation Sans, Arial, sans-serif" fill="#000" textLength="31" lengthAdjust="spacingAndGlyphs">Jul 04</text>
<rect x="314" y="600" width="146" height="1" fill="#000"/>
<polyline points="27.0,342.1 31.2,336.6 32.4,294.4 34.4,288.2 36.9,262.1 38.6,245.9 39.9,253.4 42.9,257.1 44.8,262.1 48.6,264.6 51.1,265.8 54.3,279.5 57.3,274.5 59.8,274.0 62.2,275.7 64.7,264.6 67.2,268.3 69.7,254.6 72.9,236.7 75.2,248.4 78.4,243.4 82.1,252.1 84.6,268.3 88.3,269.5 90.8,265.8 94.5,250.9 97.0,252.1 100.0,235.2 103.2,247.2 105.2,243.4 107.5,267.0 109.9,294.4 113.2,314.3 116.4,300.6 119.4,316.7 121.4,336.6 124.3,319.2 130.6,287.7 134.3,299.3 138.0,309.3 140.5,311.8 143.5,304.3 146.2,289.4 148.0,290.7 151.2,262.1 154.2,263.3 156.6,264.6 159.6,259.6 162.9,264.6 165.8,277.0 167.1,270.8 170.3,284.9 172.8,282.0 175.8,260.8 178.5,284.4 181.5,262.1 184.0,242.2 186.0,224.8 189.4,219.8 191.4,227.3 194.7,242.2 197.6,237.2 200.0,236.9 202.5,243.1 205.0,234.4 207.5,224.4 210.4,219.5 212.4,244.3 214.2,251.8 215.4,248.0 217.9,258.7 221.1,256.7 224.1,250.5 226.1,236.9 228.6,235.1 230.3,236.9 232.3,244.3 234.3,225.7 236.8,230.2 238.5,214.5 241.0,183.4 243.5,170.3 245.5,179.2 248.4,171.8 250.9,172.8 253.4,176.7 256.6,183.4 259.1,194.6 261.6,198.4 264.1,194.6 267.1,194.6 269.6,200.1 272.5,197.1 275.3,190.2 277.5,194.6 280.0,196.4 285.7,193.6 289.4,192.9 293.9,192.1 296.9,185.9 299.4,183.4 303.9,179.7 307.3,166.1 309.3,167.3 312.3,174.8 314.8,169.8 318.0,176.0 321.2,171.0 325.5,183.4 329.2,191.6 332.9,172.3 336.6,151.1 339.6,146.2 343.4,142.5 345.8,143.7 347.3,148.7 349.8,143.7 353.5,140.5 358.5,139.5 361.5,143.7 364.0,158.6 366.0,167.3 368.9,165.3 372.2,172.3 375.2,161.1 377.6,157.4 380.1,162.3 382.6,172.3 385.1,173.5 387.6,161.1 389.3,164.8 391.3,178.5 393.8,182.2 395.0,172.3 395.0,179.4 397.0,168.3 398.7,184.4 402.0,196.8 404.9,210.5 407.9,215.5 409.9,213.0 412.4,191.9 415.4,177.0 417.9,163.3 419.8,159.6 421.8,139.7 423.6,126.0 425.3,130.2 428.5,134.7 431.8,143.4 434.0,150.9 436.0,172.0 438.5,162.0 441.0,164.5 444.2,183.9 447.2,164.5 449.7,173.2 452.1,170.0 455.4,191.9 458.4,196.3 460.8,183.2 464.1,179.4 467.0,177.5 470.8,173.2 472.5,172.0 474.5,177.0 476.5,159.6 478.2,144.7 480.7,142.2 484.4,140.9 488.2,139.7 491.9,137.2 495.6,131.0 498.1,127.3 501.3,138.4 504.3,131.0 508.0,127.3 511.3,112.9 513.8,121.8 516.7,121.1 520.0,116.1 522.5,101.9 524.2,114.8 526.2,123.5 528.7,117.8 530.9,127.3 534.1,131.0 536.6,128.5 539.1,132.2 541.6,136.0 543.6,148.4 546.6,160.8 548.5,175.7 550.3,184.4 552.8,179.4 555.2,188.1 557.7,179.4 560.2,179.9 562.7,188.1 565.7,194.8 568.9,189.4 571.4,194.3 574.4,186.4 576.9,188.9 580.1,194.3 582.6,190.6 585.1,195.1 587.5,193.9 590.0,177.0 593.0,169.5 595.5,165.8 597.5,169.5 599.9,160.8 602.9,150.9 606.1,143.4 608.6,164.5 611.1,163.3 614.3,168.3 617.3,172.0 621.1,175.7 624.3,185.7 627.3,179.9 631.0,178.2 634.7,184.4 637.7,184.9 639.7,164.5 641.4,148.4 644.2,142.2 647.6,140.9 649.6,139.7 652.1,149.1 654.1,152.1 656.6,149.6 659.6,162.0 662.0,171.5 664.5,168.3 667.0,172.0 670.0,176.5 672.5,164.5 675.0,156.6 678.2,155.8 681.4,145.9 684.4,140.4 686.9,148.4 689.4,140.9 691.9,147.1 694.3,155.8 696.8,158.3 699.3,152.1 702.3,148.4 704.3,149.6 706.8,142.2 709.3,142.7 711.7,148.4 713.7,138.4 716.2,142.9 718.7,140.9 720.4,145.9 721.7,160.8 724.2,158.3 727.1,157.8" fill="none" stroke="#0000ff" stroke-width="1" shape-rendering="crispEdges"/>
<polyline points="26.1,475.4 27.8,479.1 28.7,487.3 31.2,497.2 33.7,503.4 35.4,513.4 37.4,494.7 39.4,479.8 41.6,464.4 44.1,469.9 46.1,487.3 48.6,494.7 51.1,509.6 53.0,529.5 54.8,542.4 57.3,540.7 59.8,517.1 62.2,533.2 64.7,519.6 67.2,524.0 69.2,513.4 70.9,494.7 72.9,480.3 75.2,482.8 78.4,484.8 81.6,481.1 84.1,477.3 85.8,492.2 87.6,503.4 90.8,529.5 93.3,548.1 95.3,558.6 97.5,524.5 100.0,506.6 102.7,534.5 105.7,543.2 108.9,549.4 111.4,555.6 113.4,573.0 116.1,560.6 118.9,571.7 121.4,570.5 124.3,579.2 127.3,566.8 129.8,548.1 132.5,531.5 135.5,534.5 138.0,538.2 140.5,552.4 143.0,527.0 146.2,512.1 149.2,504.7 151.7,498.4 151.6,499.0 154.0,486.6 156.5,469.2 159.0,458.0 162.0,456.8 165.2,447.3 167.7,450.6 170.4,462.2 173.2,451.8 175.4,440.1 177.9,462.2 180.9,459.3 183.9,458.0 186.3,453.0 189.3,435.7 192.5,434.9 194.5,436.9 196.8,448.1 198.8,469.2 200.0,479.1 201.2,493.1 203.7,494.3 206.2,490.6 208.7,486.9 210.4,488.1 212.4,495.6 214.9,496.8 217.9,497.3 219.8,484.4 221.8,474.5 224.3,464.5 226.8,463.3 229.3,464.0 232.3,455.1 234.3,462.0 237.2,479.4 240.2,486.4 242.2,474.5 243.9,467.0 245.4,468.3 247.7,443.4 249.7,434.7 252.6,426.0 256.4,411.1 258.4,422.3 260.1,443.4 261.6,458.3 264.1,458.3 267.0,442.2 270.3,445.9 273.3,447.6 275.7,446.6 277.5,440.4 280.0,450.9 283.2,455.3 286.9,452.1 290.7,449.1 294.4,445.9 296.9,446.6 299.3,441.7 302.3,437.2 304.3,434.2 307.3,434.2 308.8,444.7 310.5,459.1 312.5,452.1 315.5,457.1 318.0,462.0 321.2,472.0 323.0,469.5 326.2,475.7 329.2,481.2 331.1,469.5 334.1,466.5 336.1,447.1 337.9,433.5 339.6,439.7 342.1,435.2 345.3,437.7 349.0,436.7 353.3,434.2 355.7,443.4 358.2,438.4 360.2,449.6 362.7,463.3 365.2,469.5 368.9,471.5 371.9,469.5 374.4,452.6 376.9,456.6 379.3,448.4 381.8,445.2 383.8,459.6 385.8,474.5 388.3,476.5 389.5,496.8 390.5,519.5 393.0,510.8 395.4,522.0 397.9,541.9 399.9,555.5 402.4,561.7 404.9,579.1 407.4,594.0 409.3,574.2 411.8,569.2 414.3,555.5 416.1,534.4 417.8,507.1 420.3,489.7 422.3,466.7 424.3,451.8 425.5,446.4 427.7,456.8 431.0,477.9 433.4,481.6 435.9,486.1 438.4,471.7 440.2,463.8 443.4,458.8 445.4,461.3 447.6,447.4 449.1,451.8 450.3,456.3 452.6,435.7 454.6,436.4 457.5,430.7 460.3,415.8 463.3,413.3 465.7,417.0 469.5,423.3 472.5,432.0 475.7,446.9 478.9,457.3 481.4,449.3 484.4,427.0 486.9,418.3 488.9,399.7 490.6,391.0 494.3,392.2 498.0,394.7 499.8,404.6 501.3,414.1 503.0,384.8 505.0,386.0 506.7,381.0 509.2,373.6 511.7,377.3 514.7,374.8 517.2,356.2 520.4,356.2 522.4,359.9 524.1,394.7 525.4,417.0 526.1,428.2 528.6,419.5 531.1,439.4 533.6,445.6 536.1,459.3 538.5,458.0 540.8,466.7 542.8,479.2 544.0,490.3 546.5,498.4 549.0,513.3 552.0,509.6 554.4,513.3 556.4,524.5 558.2,531.9 560.2,530.7 563.4,540.1 565.9,531.9 568.4,518.3 570.0,524.1 572.0,529.1 573.7,526.1 576.2,529.1 578.0,514.2 579.4,506.2 581.2,519.2 583.7,523.6 586.1,509.2 588.6,499.3 591.1,496.8 593.6,494.3 594.8,476.9 597.3,457.0 599.8,434.7 602.3,413.6 604.8,409.8 607.3,408.6 609.8,401.1 611.7,395.4 614.2,402.9 616.5,396.2 619.2,401.1 620.9,412.3 622.7,431.0 624.7,443.4 626.6,462.0 628.4,476.4 630.4,476.9 633.4,459.5 635.3,478.2 637.1,459.5 639.6,444.6 641.6,433.4 643.3,426.7 645.3,442.1 647.0,453.3 649.0,458.3 650.7,473.2 653.2,488.1 655.7,495.6 657.5,498.0 659.4,516.7 662.4,519.2 664.4,522.9 667.4,527.1 669.9,517.9 672.4,514.2 674.3,508.0 676.3,493.1 678.1,473.2 679.8,452.1 681.1,438.4 683.0,433.4 684.3,431.7 686.3,450.1 688.0,440.9 689.8,433.4 691.7,443.4 693.5,459.5 695.0,476.9 696.7,494.3 698.0,501.3 699.7,489.3 700.9,483.1 702.2,500.5 704.2,498.0 706.1,473.2 708.4,464.0 711.1,472.5 712.9,462.0 714.1,458.3 716.6,457.5 718.3,444.6 719.6,435.2 721.6,444.6 723.5,458.3 725.3,464.0 726.5,465.0" fill="none" stroke="#0000ff" stroke-width="1" shape-rendering="crispEdges"/>
<path d="M25.4 319.2h10l-5 10z" fill="#dc0000" stroke="#000" stroke-width="1"/>
<path d="M33.1 263.1h10l-5 -10z" fill="#00a800" stroke="#000" stroke-width="1"/>
<path d="M44.3 246.4h10l-5 10z" fill="#dc0000" stroke="#000" stroke-width="1"/>
<path d="M68.2 253.9h10l-5 -10z" fill="#00a800" stroke="#000" stroke-width="1"/>
<path d="M82.1 250.1h10l-5 10z" fill="#dc0000" stroke="#000" stroke-width="1"/>
<path d="M149.2 280.0h10l-5 -10z" fill="#00a800" stroke="#000" stroke-width="1"/>
<path d="M197.1 226.0h10l-5 10z" fill="#dc0000" stroke="#000" stroke-width="1"/>
<path d="M205.1 237.3h10l-5 -10z" fill="#00a800" stroke="#000" stroke-width="1"/>
<path d="M208.3 235.2h10l-5 10z" fill="#dc0000" stroke="#000" stroke-width="1"/>
<path d="M216.1 274.2h10l-5 -10z" fill="#00a800" stroke="#000" stroke-width="1"/>
<path d="M385.6 158.6h10l-5 10z" fill="#dc0000" stroke="#000" stroke-width="1"/>
<path d="M415.3 178.7h10l-5 -10z" fill="#00a800" stroke="#000" stroke-width="1"/>
<path d="M539.6 135.9h10l-5 10z" fill="#dc0000" stroke="#000" stroke-width="1"/>
<path d="M588.8 184.9h10l-5 -10z" fill="#00a800" stroke="#000" stroke-width="1"/>
<path d="M649.6 136.4h10l-5 10z" fill="#dc0000" stroke="#000" stroke-width="1"/>
<path d="M670.7 174.5h10l-5 -10z" fill="#00a800" stroke="#000" stroke-width="1"/>
<path d="M696.8 137.7h10l-5 10z" fill="#dc0000" stroke="#000" stroke-width="1"/>
<path d="M691.8 143.9h10l-5 10z" fill="#dc0000" stroke="#000" stroke-width="1"/>
<path d="M694.8 162.1h10l-5 -10z" fill="#00a800" stroke="#000" stroke-width="1"/>
<path d="M699.8 159.6h10l-5 -10z" fill="#00a800" stroke="#000" stroke-width="1"/>
<path d="M25.4 480.3h10l-5 10z" fill="#dc0000" stroke="#000" stroke-width="1"/>
<path d="M33.6 505.2h10l-5 -10z" fill="#00a800" stroke="#000" stroke-width="1"/>
<path d="M44.3 485.3h10l-5 10z" fill="#dc0000" stroke="#000" stroke-width="1"/>
<path d="M68.4 498.2h10l-5 -10z" fill="#00a800" stroke="#000" stroke-width="1"/>
<path d="M82.1 490.2h10l-5 10z" fill="#dc0000" stroke="#000" stroke-width="1"/>
<path d="M149.2 506.4h10l-5 -10z" fill="#00a800" stroke="#000" stroke-width="1"/>
<path d="M197.5 477.9h10l-5 10z" fill="#dc0000" stroke="#000" stroke-width="1"/>
<path d="M205.4 502.3h10l-5 -10z" fill="#00a800" stroke="#000" stroke-width="1"/>
<path d="M207.9 478.7h10l-5 10z" fill="#dc0000" stroke="#000" stroke-width="1"/>
<path d="M216.1 497.4h10l-5 -10z" fill="#00a800" stroke="#000" stroke-width="1"/>
<path d="M385.5 501.8h10l-5 10z" fill="#dc0000" stroke="#000" stroke-width="1"/>
<path d="M415.5 505.9h10l-5 -10z" fill="#00a800" stroke="#000" stroke-width="1"/>
<path d="M539.0 478.2h10l-5 10z" fill="#dc0000" stroke="#000" stroke-width="1"/>
<path d="M590.3 491.9h10l-5 -10z" fill="#00a800" stroke="#000" stroke-width="1"/>
<path d="M649.5 476.9h10l-5 10z" fill="#dc0000" stroke="#000" stroke-width="1"/>
<path d="M671.3 506.8h10l-5 -10z" fill="#00a800" stroke="#000" stroke-width="1"/>
<path d="M694.7 500.3h10l-5 -10z" fill="#00a800" stroke="#000" stroke-width="1"/>
<path d="M692.2 483.6h10l-5 10z" fill="#dc0000" stroke="#000" stroke-width="1"/>
<path d="M700.4 498.6h10l-5 -10z" fill="#00a800" stroke="#000" stroke-width="1"/>
<path d="M697.2 483.6h10l-5 10z" fill="#dc0000" stroke="#000" stroke-width="1"/>
<rect x="28" y="98" width="154" height="18" fill="#fff"/>
<rect x="28" y="98" width="154" height="1" fill="#000"/>
<rect x="28" y="115" width="154" height="1" fill="#000"/>
<rect x="28" y="98" width="1" height="18" fill="#000"/>
<rect x="181" y="98" width="1" height="18" fill="#000"/>
<rect x="33" y="107" width="12" height="1" fill="#0000ff"/>
<text x="48.5" y="111" font-size="11" font-family="Liberation Sans, Arial, sans-serif" fill="#000" textLength="130" lengthAdjust="spacingAndGlyphs">Close (*) 44,16 EUR (10.8.)</text>
<rect x="28" y="351" width="144" height="18" fill="#fff"/>
<rect x="28" y="351" width="144" height="1" fill="#000"/>
<rect x="28" y="368" width="144" height="1" fill="#000"/>
<rect x="28" y="351" width="1" height="18" fill="#000"/>
<rect x="171" y="351" width="1" height="18" fill="#000"/>
<rect x="33" y="360" width="12" height="1" fill="#0000ff"/>
<text x="48.5" y="364" font-size="11" font-family="Liberation Sans, Arial, sans-serif" fill="#000" textLength="120" lengthAdjust="spacingAndGlyphs">MFI20 (*) 56,0655 (10.8.)</text>
<rect x="15" y="96" width="10" height="16" fill="#fff"/>
<rect x="15" y="96" width="10" height="1" fill="#000"/>
<rect x="15" y="111" width="10" height="1" fill="#000"/>
<rect x="15" y="96" width="1" height="16" fill="#000"/>
<rect x="24" y="96" width="1" height="16" fill="#000"/>
<text x="20" y="108" font-size="11" font-family="Liberation Sans, Arial, sans-serif" fill="#000" text-anchor="middle">f</text>
<rect x="18" y="109" width="4" height="1" fill="#000"/>
<rect x="750" y="96" width="16" height="16" fill="#fff"/>
<rect x="750" y="96" width="16" height="1" fill="#000"/>
<rect x="750" y="111" width="16" height="1" fill="#000"/>
<rect x="750" y="96" width="1" height="16" fill="#000"/>
<rect x="765" y="96" width="1" height="16" fill="#000"/>
<text x="757" y="108" font-size="11" font-family="Liberation Sans, Arial, sans-serif" fill="#000" text-anchor="middle">%</text>
<rect x="752" y="109" width="11" height="1" fill="#000"/>
<rect x="13" y="349" width="12" height="16" fill="#fff"/>
<rect x="13" y="349" width="12" height="1" fill="#000"/>
<rect x="13" y="364" width="12" height="1" fill="#000"/>
<rect x="13" y="349" width="1" height="16" fill="#000"/>
<rect x="24" y="349" width="1" height="16" fill="#000"/>
<text x="19" y="361" font-size="11" font-family="Liberation Sans, Arial, sans-serif" fill="#000" font-weight="bold" text-anchor="middle">a</text>
<rect x="750" y="349" width="12" height="16" fill="#fff"/>
<rect x="750" y="349" width="12" height="1" fill="#000"/>
<rect x="750" y="364" width="12" height="1" fill="#000"/>
<rect x="750" y="349" width="1" height="16" fill="#000"/>
<rect x="761" y="349" width="1" height="16" fill="#000"/>
<text x="754.5" y="361" font-size="10" font-family="Liberation Sans, Arial, sans-serif" fill="#000" text-anchor="middle">=</text>
</svg></body></html>
